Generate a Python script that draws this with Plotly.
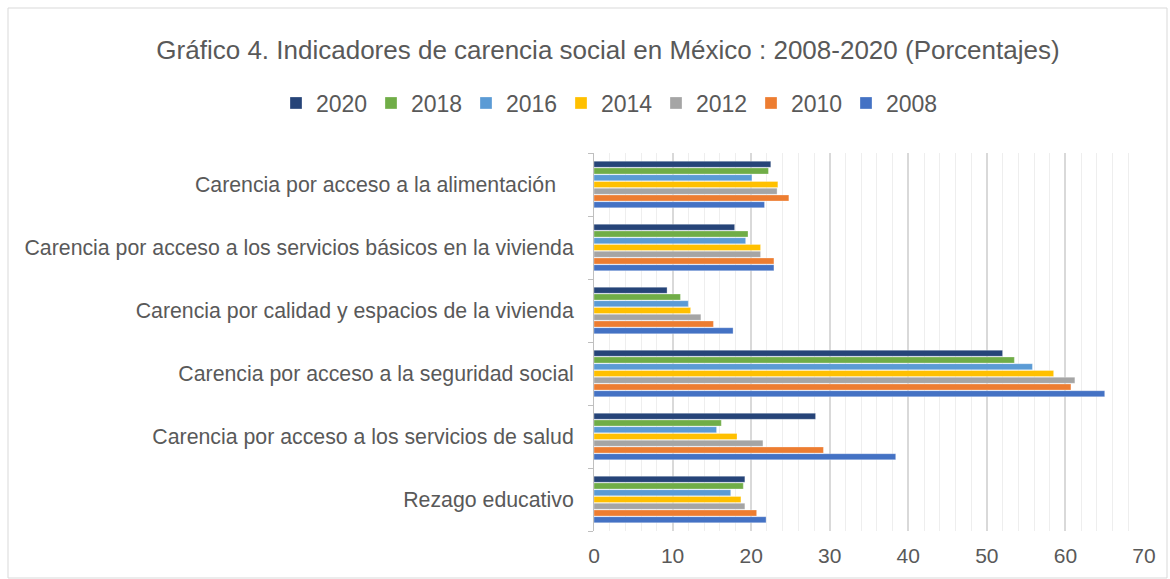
import plotly.graph_objects as go

categories = [
    "Rezago educativo",
    "Carencia por acceso a los servicios de salud",
    "Carencia por acceso a la seguridad social",
    "Carencia por calidad y espacios de la vivienda",
    "Carencia por acceso a los servicios básicos en la vivienda",
    "Carencia por acceso a la alimentación\u00a0\u00a0\u00a0",
]
years = ["2008", "2010", "2012", "2014", "2016", "2018", "2020"]
v2008 = [21.9, 38.4, 65.0, 17.7, 22.9, 21.7]
v2010 = [20.7, 29.2, 60.7, 15.2, 22.9, 24.8]
v2012 = [19.2, 21.5, 61.2, 13.6, 21.2, 23.3]
v2014 = [18.7, 18.2, 58.5, 12.3, 21.2, 23.4]
v2016 = [17.4, 15.6, 55.8, 12.0, 19.3, 20.1]
v2018 = [19.0, 16.2, 53.5, 11.0, 19.6, 22.2]
v2020 = [19.2, 28.2, 52.0, 9.3, 17.9, 22.5]
series = [v2008, v2010, v2012, v2014, v2016, v2018, v2020]
colors = ["#4472C4", "#ED7D31", "#A5A5A5", "#FFC000", "#5B9BD5", "#70AD47", "#264478"]

fig = go.Figure()
for name, vals, col in zip(years, series, colors):
    fig.add_trace(go.Bar(
        y=categories, x=vals, name=name, orientation="h",
        marker=dict(color=col, line=dict(color="rgba(255,255,255,0.6)", width=0.5)),
    ))

W, H = 1170, 579
L, R, T, B = 594, 26, 153, 48
pw, ph = W - L - R, H - T - B

fig.update_layout(
    width=W, height=H,
    margin=dict(l=L, r=R, t=T, b=B),
    paper_bgcolor="white", plot_bgcolor="white",
    barmode="group", bargap=0.25, bargroupgap=0.1,
    font=dict(family="Liberation Sans, Arial, sans-serif", color="#595959"),
    title=dict(
        text="Gráfico 4. Indicadores de carencia social en México : 2008-2020 (Porcentajes)",
        x=608 / W, xanchor="center", y=1 - 50 / H, yanchor="middle",
        font=dict(size=26, color="#595959"),
    ),
    legend=dict(
        orientation="h", traceorder="reversed",
        x=(276 - L) / pw, xref="paper", xanchor="left",
        y=(H - B - 103) / ph, yref="paper", yanchor="middle",
        font=dict(size=23, color="#595959"),
        itemwidth=30, tracegroupgap=0, entrywidth=50,
    ),
    xaxis=dict(
        range=[0, 70], dtick=10, showline=False, zeroline=False,
        showgrid=True, gridcolor="#D9D9D9", gridwidth=1.5,
        minor=dict(dtick=2, showgrid=True, gridcolor="#EEEEEE", gridwidth=1),
        tickfont=dict(size=21, color="#595959"),
        ticks="", ticklabelstandoff=10,
    ),
    yaxis=dict(
        showline=True, linecolor="#BFBFBF", linewidth=1,
        ticks="outside", tickson="boundaries", ticklen=5, tickcolor="#BFBFBF",
        tickfont=dict(size=21.3, color="#595959"),
        ticklabelstandoff=15, showgrid=False,
    ),
    showlegend=True,
)

fig.add_shape(
    type="rect", xref="paper", yref="paper",
    x0=(8 - L) / pw, x1=(1167 - L) / pw,
    y0=(H - B - 578) / ph, y1=(H - B - 8) / ph,
    line=dict(color="#D9D9D9", width=1), fillcolor="rgba(0,0,0,0)", layer="below",
)

fig.write_html("out.html", config={"displayModeBar": False},
               post_script="document.body.style.margin='0';")
